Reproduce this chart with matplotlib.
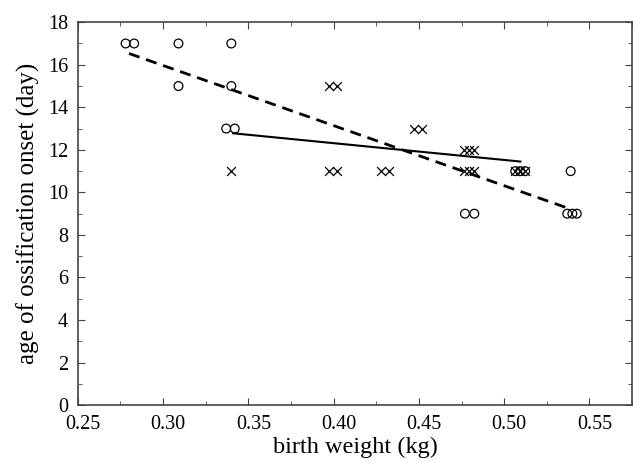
import matplotlib
matplotlib.use("Agg")
import matplotlib.pyplot as plt
import matplotlib.transforms as mtransforms
from matplotlib.ticker import MultipleLocator, FormatStrFormatter

plt.rcParams['font.family'] = ['Liberation Serif', 'DejaVu Serif']

# Circle-marker observations
circ_x = [0.278, 0.283, 0.309, 0.309, 0.340, 0.340, 0.337, 0.342,
          0.477, 0.4825, 0.5065, 0.5094, 0.5123, 0.539, 0.537, 0.540, 0.5426]
circ_y = [17, 17, 17, 15, 17, 15, 13, 13,
          9, 9, 11, 11, 11, 11, 9, 9, 9]

# Cross-marker observations
cross_x = [0.340, 0.397, 0.402, 0.397, 0.402, 0.4276, 0.4324, 0.447, 0.452,
           0.4767, 0.4795, 0.4825, 0.4767, 0.4795, 0.4825, 0.5065, 0.5094, 0.5123]
cross_y = [11, 15, 15, 11, 11, 11, 11, 13, 13,
           12, 12, 12, 11, 11, 11, 11, 11, 11]

# Regression lines (endpoints)
dash_x = [0.280, 0.537]
dash_y = [16.53, 9.27]
solid_x = [0.341, 0.5095]
solid_y = [12.78, 11.45]

fig = plt.figure(figsize=(6.33, 4.63), dpi=100)
ax = fig.add_axes([0.123, 0.125, 0.8755, 0.827])

ax.plot(dash_x, dash_y, color='black', lw=2.0, ls=(0, (4, 2.5)))
ax.plot(solid_x, solid_y, color='black', lw=1.5)
ax.scatter(circ_x, circ_y, s=40, facecolors='none', edgecolors='black', linewidths=0.9, zorder=3)
ax.scatter(cross_x, cross_y, s=40, marker='x', color='black', linewidths=0.9, zorder=3)

ax.set_xlim(0.25, 0.575)
ax.set_ylim(0, 18)
ax.xaxis.set_major_locator(MultipleLocator(0.05))
ax.xaxis.set_minor_locator(MultipleLocator(0.025))
ax.yaxis.set_major_locator(MultipleLocator(2))
ax.yaxis.set_minor_locator(MultipleLocator(1))
ax.xaxis.set_major_formatter(FormatStrFormatter('%.2f'))

ax.tick_params(which='both', direction='in', top=True, right=True, labelsize=14.5, color='#444444')
ax.tick_params(which='major', length=5)
ax.tick_params(axis='x', which='major', pad=7)
ax.tick_params(axis='y', which='major', pad=7)
ax.tick_params(which='minor', length=3)
for s in ax.spines.values():
    s.set_color('#444444')
    s.set_linewidth(1.2)

# the reference's x tick labels sit slightly right of their ticks
offset = mtransforms.ScaledTranslation(5 / 100, 0, fig.dpi_scale_trans)
for lab in ax.get_xticklabels():
    lab.set_transform(lab.get_transform() + offset)

ax.set_xlabel('birth weight (kg)', fontsize=17.5, labelpad=2)
ax.set_ylabel('age of ossification onset (day)', fontsize=18, labelpad=6)

fig.savefig('out.png', dpi=100)
